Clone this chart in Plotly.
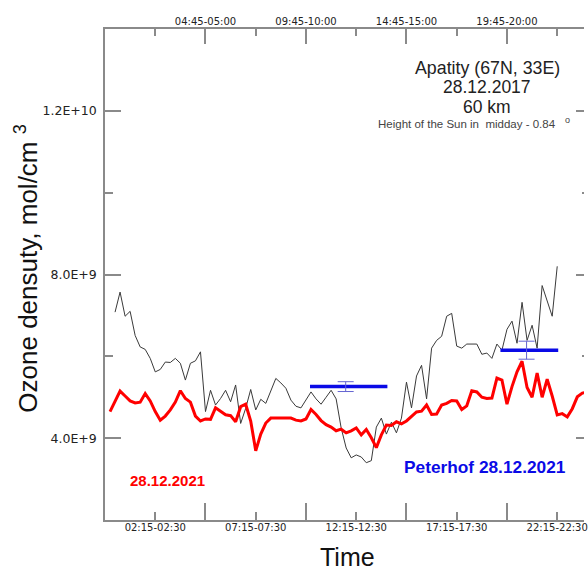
import plotly.graph_objects as go

# ---- data ----
# x = index of 15-min interval (k -> interval starting at k*15 min)
apatity_k = list(range(1, 90))
apatity_2017 = [7.08, 7.57, 6.98, 7.10, 6.51, 6.23, 6.17, 5.95, 5.62, 5.68,
                5.86, 5.85, 5.95, 5.83, 5.42, 5.83, 5.89, 6.11, 4.65, 5.17,
                4.81, 4.97, 5.17, 4.89, 5.30, 4.36, 4.73, 5.19, 4.69, 4.95,
                4.85, 5.15, 5.46, 5.35, 5.22, 4.93, 4.78, 4.74, 4.93, 5.13,
                4.96, 4.83, 5.00, 5.17, 4.96, 4.25, 3.76, 3.52, 3.59, 3.54,
                3.40, 3.45, 4.27, 4.49, 4.10, 4.39, 4.13, 4.49, 5.37, 4.74,
                5.52, 5.78, 4.96, 6.20, 6.39, 6.49, 6.98, 7.05, 6.25, 6.20,
                6.30, 6.30, 6.30, 6.05, 6.08, 5.95, 6.30, 6.15, 6.66, 6.86,
                6.32, 7.32, 6.39, 6.76, 6.20, 7.73, 7.37, 6.98, 8.20]  # x1e9

red_k = list(range(0, 96))
red_2021 = [4.65, 4.91, 5.15, 5.03, 4.91, 4.86, 4.88, 5.09, 4.91, 4.65,
            4.44, 4.54, 4.69, 4.88, 5.16, 4.97, 4.88, 4.54, 4.42, 4.47,
            4.46, 4.74, 4.65, 4.57, 4.55, 4.40, 4.77, 4.83, 4.42, 3.69,
            4.10, 4.37, 4.49, 4.49, 4.49, 4.49, 4.49, 4.44, 4.42, 4.47,
            4.70, 4.58, 4.43, 4.33, 4.27, 4.18, 4.22, 4.13, 4.18, 4.25,
            4.08, 4.21, 4.01, 3.77, 4.08, 4.32, 4.31, 4.40, 4.35, 4.42,
            4.52, 4.64, 4.66, 4.81, 4.58, 4.59, 4.81, 4.85, 4.92, 4.91,
            4.70, 4.79, 5.16, 5.13, 5.00, 4.97, 4.98, 5.47, 5.42, 4.83,
            5.26, 5.62, 5.88, 5.24, 5.00, 5.59, 5.00, 5.44, 5.03, 4.57,
            4.60, 4.52, 4.72, 5.01, 5.10, 5.13]  # x1e9

peterhof_start = [39.8, 77.7]
peterhof_end = [55.2, 89.2]
peterhof_center = [46.9, 82.9]
peterhof_mean = [5.26, 6.15]   # x1e9
peterhof_err = [0.12, 0.22]    # x1e9

bottom_tick_k = [9, 29, 49, 69, 89]
bottom_tick_labels = ["02:15-02:30", "07:15-07:30", "12:15-12:30", "17:15-17:30", "22:15-22:30"]
top_tick_k = [19, 39, 59, 79]
top_tick_labels = ["04:45-05:00", "09:45-10:00", "14:45-15:00", "19:45-20:00"]
y_tick_vals = [4e9, 8e9, 1.2e10]
y_tick_labels = ["4.0E+9", "8.0E+9", "1.2E+10"]
y_minor_vals = [6e9, 1.0e10]

E9 = 1e9
AX = "#8a8a8a"

fig = go.Figure()

fig.add_trace(go.Scatter(x=apatity_k, y=[v * E9 for v in apatity_2017], mode="lines",
                         line=dict(color="#3a3a3a", width=1)))
fig.add_trace(go.Scatter(x=red_k, y=[v * E9 for v in red_2021], mode="lines",
                         line=dict(color="#ff0000", width=3)))
for s, e, m in zip(peterhof_start, peterhof_end, peterhof_mean):
    fig.add_trace(go.Scatter(x=[s, e], y=[m * E9, m * E9], mode="lines",
                             line=dict(color="#0a0ae6", width=3.5)))
fig.add_trace(go.Scatter(x=peterhof_center, y=[m * E9 for m in peterhof_mean], mode="markers",
                         marker=dict(size=1, opacity=0),
                         error_y=dict(type="data", array=[e * E9 for e in peterhof_err],
                                      color="#6464d2", thickness=1, width=8)))
# invisible traces that carry the mirror axes
fig.add_trace(go.Scatter(x=[0], y=[3e9], xaxis="x2", yaxis="y", mode="markers",
                         marker=dict(size=1, opacity=0), hoverinfo="skip"))
fig.add_trace(go.Scatter(x=[0], y=[3e9], xaxis="x", yaxis="y2", mode="markers",
                         marker=dict(size=1, opacity=0), hoverinfo="skip"))

XR = [-1, 94.33]
YR = [2e9, 1.4e10]

fig.update_layout(
    width=588, height=569,
    margin=dict(l=105, r=0, t=29, b=49, pad=0),
    paper_bgcolor="white", plot_bgcolor="white",
    showlegend=False,
    font=dict(family="Liberation Sans, Arial, sans-serif", color="#222222"),
    xaxis=dict(range=XR, showgrid=False, zeroline=False, showline=True,
               linecolor=AX, linewidth=1.5, mirror=False,
               ticks="inside", ticklen=8, tickwidth=1.5, tickcolor=AX,
               tickvals=bottom_tick_k, ticktext=bottom_tick_labels,
               ticklabeloverflow="allow", ticklabelstandoff=-3,
               tickfont=dict(family="DejaVu Sans", size=10, color="#222222"),
               minor=dict(tickvals=top_tick_k, ticks="inside", ticklen=17,
                          tickwidth=1.5, tickcolor=AX, showgrid=False)),
    xaxis2=dict(range=XR, overlaying="x", side="top", anchor="y", showgrid=False,
                zeroline=False, showline=True, linecolor=AX, linewidth=1.5,
                ticks="inside", ticklen=15, tickwidth=1.5, tickcolor=AX,
                tickvals=top_tick_k, ticktext=top_tick_labels,
                ticklabeloverflow="allow", ticklabelstandoff=-2,
                tickfont=dict(family="DejaVu Sans", size=10, color="#222222"),
                minor=dict(tickvals=bottom_tick_k, ticks="inside", ticklen=7,
                           tickwidth=1.5, tickcolor=AX, showgrid=False)),
    yaxis=dict(range=YR, showgrid=False, zeroline=False, showline=True,
               linecolor=AX, linewidth=1.5,
               ticks="inside", ticklen=16, tickwidth=1.5, tickcolor=AX,
               tickvals=y_tick_vals, ticktext=y_tick_labels,
               ticklabelstandoff=4,
               tickfont=dict(family="DejaVu Sans", size=12.5, color="#222222"),
               minor=dict(tickvals=y_minor_vals, ticks="inside", ticklen=8,
                          tickwidth=1.5, tickcolor=AX, showgrid=False)),
    yaxis2=dict(range=YR, overlaying="y", side="right", anchor="x", showgrid=False,
                zeroline=False, showline=False, showticklabels=False,
                ticks="inside", ticklen=8, tickwidth=1.5, tickcolor=AX,
                tickvals=y_tick_vals,
                minor=dict(tickvals=y_minor_vals, ticks="inside", ticklen=2,
                           tickwidth=1.5, tickcolor=AX, showgrid=False)),
)

def px_x(px):
    return (px - 105) / 483.0

def px_y(py):
    return (520 - py) / 491.0

ann = [
    dict(text="Apatity (67N, 33E)", x=px_x(490.5), y=px_y(68), size=17.8, color="#222222"),
    dict(text="28.12.2017", x=px_x(490.5), y=px_y(87.5), size=17.5, color="#222222"),
    dict(text="60 km", x=px_x(490.5), y=px_y(107), size=17.5, color="#222222"),
    dict(text="Height of the Sun in  midday - 0.84", x=px_x(470.5), y=px_y(124), size=11.5, color="#444444"),
    dict(text="o", x=px_x(571), y=px_y(120), size=9, color="#444444"),
    dict(text="<b>28.12.2021</b>", x=px_x(168.5), y=px_y(480.5), size=15, color="#ff0000"),
    dict(text="<b>Peterhof 28.12.2021</b>", x=px_x(488.5), y=px_y(467), size=17.3, color="#0a0ae6"),
    dict(text="Time", x=px_x(350), y=px_y(556.5), size=25, color="#111111"),
]
for a in ann:
    fig.add_annotation(text=a["text"], x=a["x"], y=a["y"], xref="paper", yref="paper",
                       xanchor="center", yanchor="middle", showarrow=False,
                       font=dict(size=a["size"], color=a["color"],
                                 family="Liberation Sans, Arial, sans-serif"))

fig.add_annotation(text="Ozone densuty, mol/cm <sup>3</sup>", x=px_x(25), y=px_y(268),
                   xref="paper", yref="paper", xanchor="center", yanchor="middle",
                   showarrow=False, textangle=-90,
                   font=dict(size=26, color="#111111", family="Liberation Sans, Arial, sans-serif"))

fig.write_html("out.html", config={"displayModeBar": False})

# remove the browser's default page margin so the figure sits at (0, 0)
with open("out.html", "r", encoding="utf-8") as f:
    html = f.read()
html = html.replace("<head>", "<head><style>html,body{margin:0;padding:0;overflow:hidden;}</style>", 1)
with open("out.html", "w", encoding="utf-8") as f:
    f.write(html)
